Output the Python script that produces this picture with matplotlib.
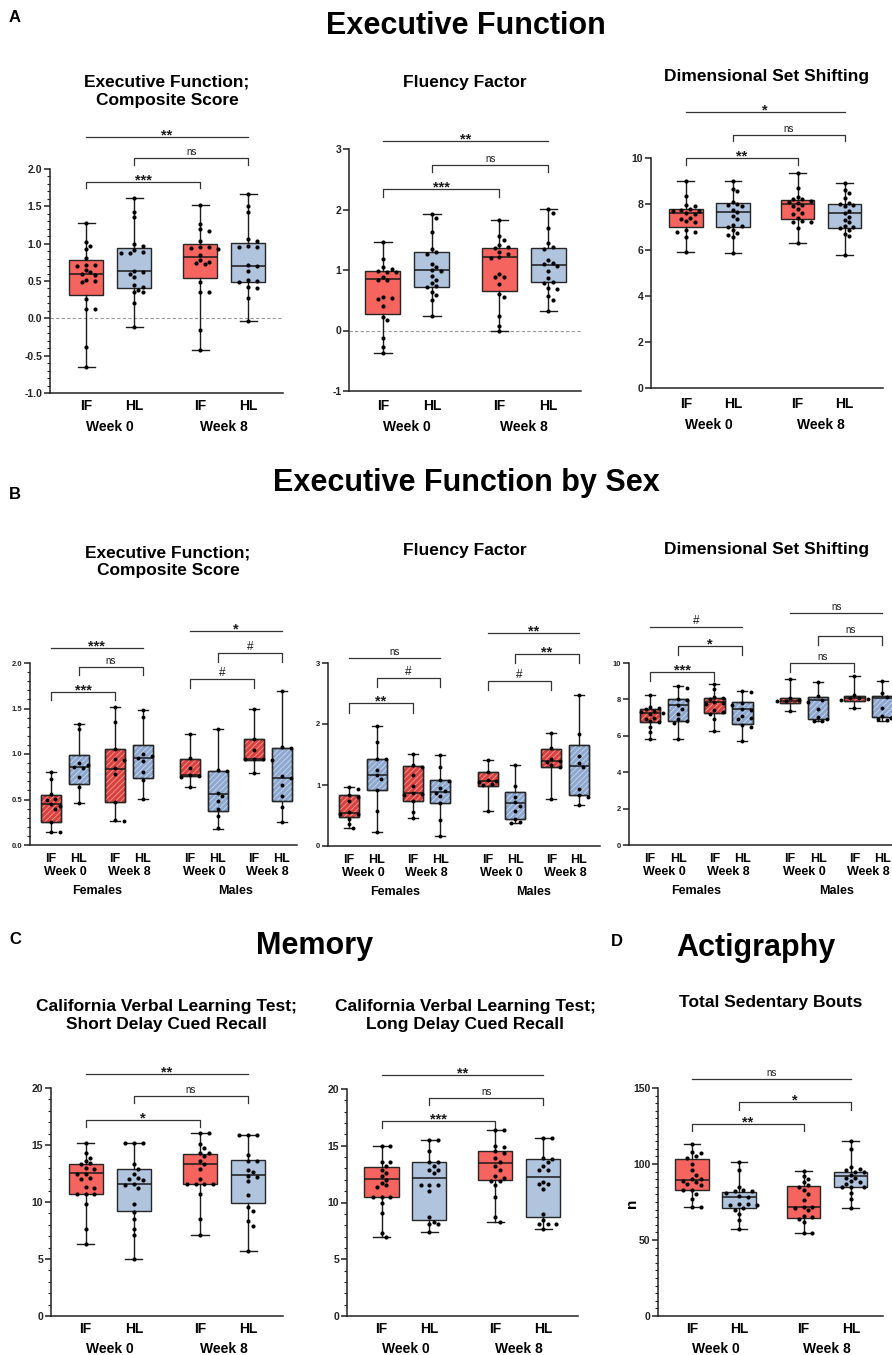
import numpy as np
import matplotlib
matplotlib.use("Agg")
import matplotlib.pyplot as plt
from matplotlib.ticker import AutoMinorLocator
from matplotlib.patches import PathPatch

plt.rcParams['font.family'] = ['Liberation Sans', 'DejaVu Sans']
plt.rcParams['hatch.linewidth'] = 0.6

# ---------------- data ----------------
groups = ["IF", "HL", "IF", "HL"]
weeks = ["Week 0", "Week 8"]
sexes = ["Females", "Males"]

# A1 Executive function composite
ef_lo = [-0.65, -0.11, -0.42, -0.04]
ef_q1 = [0.31, 0.40, 0.54, 0.48]
ef_med = [0.59, 0.63, 0.82, 0.70]
ef_q3 = [0.78, 0.94, 1.00, 1.01]
ef_hi = [1.28, 1.61, 1.52, 1.67]
ef_pts = [
    [1.28, 1.02, 0.97, 0.93, 0.81, 0.72, 0.71, 0.70, 0.65, 0.62, 0.60, 0.58, 0.52, 0.50, 0.49, 0.26, 0.12, 0.12, -0.38, -0.65],
    [1.61, 1.43, 1.36, 0.99, 0.97, 0.91, 0.89, 0.88, 0.87, 0.64, 0.62, 0.60, 0.56, 0.44, 0.42, 0.38, 0.35, 0.35, 0.20, -0.11],
    [1.52, 1.26, 1.19, 1.17, 1.04, 0.96, 0.95, 0.94, 0.93, 0.85, 0.78, 0.76, 0.74, 0.73, 0.49, 0.35, 0.35, -0.16, -0.42],
    [1.67, 1.50, 1.43, 1.06, 1.04, 0.97, 0.96, 0.95, 0.72, 0.70, 0.63, 0.51, 0.50, 0.49, 0.42, 0.41, 0.27, -0.04],
]

# A2 Fluency factor
flu_lo = [-0.38, 0.24, 0.00, 0.33]
flu_q1 = [0.28, 0.72, 0.65, 0.80]
flu_med = [0.85, 1.00, 1.21, 1.08]
flu_q3 = [0.99, 1.29, 1.36, 1.36]
flu_hi = [1.46, 1.93, 1.82, 2.01]
flu_pts = [
    [1.46, 1.19, 1.05, 1.02, 0.99, 0.97, 0.96, 0.88, 0.84, 0.83, 0.56, 0.53, 0.52, 0.41, 0.23, 0.18, -0.12, -0.28, -0.38],
    [1.93, 1.86, 1.62, 1.35, 1.30, 1.27, 1.10, 1.05, 1.00, 0.99, 0.90, 0.83, 0.78, 0.73, 0.72, 0.63, 0.59, 0.50, 0.24],
    [1.82, 1.57, 1.50, 1.41, 1.38, 1.36, 1.30, 1.27, 1.21, 1.20, 0.93, 0.89, 0.88, 0.77, 0.60, 0.55, 0.24, 0.08, 0.00],
    [2.01, 1.95, 1.70, 1.44, 1.38, 1.35, 1.17, 1.12, 1.10, 1.07, 0.98, 0.87, 0.80, 0.78, 0.70, 0.68, 0.57, 0.50, 0.33],
]

# A3 Dimensional set shifting
dss_lo = [5.90, 5.85, 6.30, 5.78]
dss_q1 = [6.98, 7.01, 7.36, 6.97]
dss_med = [7.59, 7.66, 7.98, 7.60]
dss_q3 = [7.80, 8.05, 8.16, 7.99]
dss_hi = [8.99, 9.00, 9.36, 8.93]
dss_pts = [
    [8.99, 8.35, 7.95, 7.90, 7.80, 7.76, 7.70, 7.68, 7.60, 7.55, 7.40, 7.35, 7.25, 7.20, 6.85, 6.80, 6.80, 6.55, 5.90],
    [9.00, 8.65, 8.55, 8.10, 8.00, 7.95, 7.90, 7.75, 7.65, 7.50, 7.35, 7.10, 7.05, 7.00, 6.85, 6.75, 6.65, 6.55, 5.85],
    [9.36, 8.70, 8.30, 8.20, 8.20, 8.15, 8.10, 8.05, 7.95, 7.90, 7.80, 7.60, 7.55, 7.40, 7.25, 7.20, 7.20, 6.95, 6.30],
    [8.93, 8.60, 8.50, 8.25, 8.05, 8.00, 7.95, 7.90, 7.70, 7.60, 7.45, 7.30, 7.20, 7.05, 7.00, 6.95, 6.85, 6.70, 6.60, 5.78],
]

# B1 composite by sex (F IF0, F HL0, F IF8, F HL8, M IF0, M HL0, M IF8, M HL8)
efs_lo = [0.14, 0.46, 0.26, 0.51, 0.64, 0.18, 0.79, 0.25]
efs_q1 = [0.25, 0.67, 0.47, 0.74, 0.76, 0.37, 0.93, 0.48]
efs_med = [0.45, 0.86, 0.84, 0.96, 0.77, 0.56, 0.95, 0.74]
efs_q3 = [0.55, 0.99, 1.05, 1.10, 0.95, 0.81, 1.17, 1.07]
efs_hi = [0.80, 1.33, 1.52, 1.48, 1.22, 1.28, 1.49, 1.69]
efs_pts = [
    [0.80, 0.72, 0.56, 0.51, 0.49, 0.45, 0.43, 0.40, 0.25, 0.14, 0.14],
    [1.33, 1.27, 0.90, 0.88, 0.86, 0.85, 0.75, 0.64, 0.46],
    [1.52, 1.35, 1.06, 0.95, 0.93, 0.85, 0.78, 0.47, 0.27, 0.26],
    [1.48, 1.41, 1.00, 0.98, 0.96, 0.92, 0.80, 0.71, 0.51],
    [1.22, 0.96, 0.85, 0.77, 0.76, 0.75, 0.64],
    [1.28, 0.82, 0.81, 0.57, 0.54, 0.48, 0.40, 0.32, 0.19],
    [1.49, 1.17, 1.04, 0.95, 0.94, 0.94, 0.93, 0.79],
    [1.69, 1.08, 1.07, 0.76, 0.74, 0.66, 0.54, 0.42, 0.25],
]

# B2 fluency by sex
flus_lo = [0.30, 0.23, 0.46, 0.17, 0.58, 0.37, 0.77, 0.68]
flus_q1 = [0.475, 0.92, 0.73, 0.70, 0.98, 0.45, 1.29, 0.83]
flus_med = [0.54, 1.17, 0.87, 0.89, 1.06, 0.70, 1.39, 1.31]
flus_q3 = [0.83, 1.42, 1.31, 1.09, 1.22, 0.88, 1.59, 1.66]
flus_hi = [0.97, 1.97, 1.51, 1.50, 1.41, 1.33, 1.85, 2.47]
flus_pts = [
    [0.96, 0.93, 0.84, 0.81, 0.74, 0.55, 0.53, 0.52, 0.45, 0.36, 0.30],
    [1.97, 1.71, 1.43, 1.42, 1.25, 1.16, 1.10, 0.92, 0.57, 0.23],
    [1.51, 1.33, 1.30, 1.17, 0.98, 0.87, 0.85, 0.84, 0.73, 0.56, 0.46],
    [1.50, 1.30, 1.08, 1.07, 0.95, 0.90, 0.87, 0.82, 0.70, 0.42, 0.17],
    [1.41, 1.22, 1.08, 1.06, 1.05, 1.02, 1.00, 0.58],
    [1.33, 0.98, 0.80, 0.72, 0.66, 0.57, 0.44, 0.40, 0.37],
    [1.85, 1.60, 1.42, 1.39, 1.38, 1.32, 1.30, 0.77],
    [2.47, 1.84, 1.48, 1.36, 1.30, 0.94, 0.83, 0.80, 0.68],
]

# B3 set shifting by sex
dsss_lo = [5.83, 5.85, 6.29, 5.69, 7.39, 6.79, 7.52, 6.84]
dsss_q1 = [6.75, 6.83, 7.25, 6.64, 7.80, 6.94, 7.93, 7.06]
dsss_med = [7.28, 7.69, 7.83, 7.47, 7.93, 7.98, 8.06, 8.07]
dsss_q3 = [7.49, 8.00, 8.07, 7.83, 8.07, 8.11, 8.20, 8.20]
dsss_hi = [8.22, 8.72, 8.84, 8.48, 9.14, 8.94, 9.30, 9.03]
dsss_pts = [
    [8.22, 7.60, 7.55, 7.45, 7.35, 7.30, 7.28, 7.20, 7.00, 6.95, 6.80, 6.75, 6.50, 6.20, 5.83],
    [8.72, 8.65, 8.00, 7.95, 7.70, 7.50, 7.20, 6.90, 6.80, 6.70, 5.85],
    [8.84, 8.55, 8.15, 8.10, 8.00, 7.85, 7.80, 7.75, 7.70, 7.40, 7.30, 7.20, 6.90, 6.29],
    [8.48, 8.40, 7.80, 7.50, 7.40, 7.10, 7.00, 6.95, 6.60, 6.50, 5.69],
    [9.14, 8.05, 7.95, 7.93, 7.90, 7.85, 7.39],
    [8.94, 8.20, 7.95, 7.50, 7.05, 6.95, 6.80, 6.80],
    [9.30, 8.25, 8.10, 8.05, 8.02, 7.95, 7.52],
    [9.03, 8.35, 8.15, 7.55, 7.10, 7.00, 6.90, 6.85],
]

# C1 CVLT short delay cued recall
cvs_lo = [6.30, 4.98, 7.12, 5.71]
cvs_q1 = [10.72, 9.17, 11.60, 9.90]
cvs_med = [12.53, 11.57, 13.35, 12.33]
cvs_q3 = [13.35, 12.88, 14.23, 13.65]
cvs_hi = [15.17, 15.17, 16.05, 15.90]
cvs_pts = [
    [15.17, 14.3, 13.9, 13.6, 13.4, 13.3, 13.0, 12.9, 12.5, 12.5, 12.1, 12.0, 11.3, 11.2, 10.7, 10.7, 10.7, 9.8, 7.6, 6.3],
    [15.17, 15.17, 15.17, 13.3, 12.9, 12.5, 12.1, 12.0, 11.9, 11.6, 11.5, 11.2, 9.8, 9.1, 8.5, 7.6, 7.1, 4.98],
    [16.05, 16.05, 15.1, 14.7, 14.3, 14.3, 14.0, 13.6, 13.3, 12.9, 12.0, 11.6, 11.6, 11.6, 11.6, 10.7, 8.5, 7.12],
    [15.9, 15.9, 15.9, 14.1, 13.6, 13.6, 12.8, 12.6, 12.3, 12.2, 11.8, 10.6, 9.6, 9.2, 8.3, 7.9, 5.71],
]

# C2 CVLT long delay cued recall
cvl_lo = [6.94, 7.44, 8.32, 7.65]
cvl_q1 = [10.47, 8.47, 11.94, 8.76]
cvl_med = [12.06, 12.15, 13.47, 12.29]
cvl_q3 = [13.09, 13.53, 14.50, 13.82]
cvl_hi = [14.94, 15.47, 16.35, 15.68]
cvl_pts = [
    [14.94, 14.94, 13.6, 13.6, 13.2, 12.9, 12.6, 12.3, 12.0, 11.7, 11.5, 11.4, 10.5, 10.5, 10.5, 10.0, 9.1, 7.3, 6.94],
    [15.47, 15.47, 14.5, 13.6, 13.6, 13.2, 12.9, 12.9, 12.6, 11.5, 11.5, 11.5, 11.0, 8.7, 8.3, 8.1, 8.1, 7.44],
    [16.35, 16.35, 15.0, 14.9, 14.5, 14.4, 13.9, 13.6, 13.2, 12.9, 12.3, 12.2, 11.9, 11.9, 11.5, 10.5, 8.7, 8.32],
    [15.68, 15.68, 13.9, 13.8, 13.6, 13.2, 12.9, 12.9, 11.8, 11.6, 11.6, 11.2, 9.0, 8.5, 8.1, 8.1, 8.1, 7.65],
]

# D Total sedentary bouts
sed_lo = [72.0, 57.1, 54.5, 70.9]
sed_q1 = [82.6, 70.9, 64.8, 84.6]
sed_med = [89.2, 78.2, 71.6, 91.8]
sed_q3 = [103.2, 81.3, 85.7, 94.7]
sed_hi = [113.1, 101.2, 95.5, 114.9]
sed_pts = [
    [113.1, 108, 107, 105, 104, 100, 96, 93, 90, 90, 89, 88, 87, 86, 83, 83, 80, 77, 72, 72],
    [101.2, 96, 85, 83, 82, 82, 81, 79, 78, 74, 74, 73, 73, 71, 70, 67, 63, 57.1],
    [95.5, 92, 90, 88, 86, 85, 83, 80, 76, 72, 72, 71, 70, 66, 65, 64, 62, 54.5, 54.5],
    [114.9, 110, 98, 97, 96, 95, 95, 93, 91, 91, 89, 88, 87, 85, 85, 85, 81, 77, 70.9],
]

# ---------------- styling ----------------
RED_A, BLUE_A = '#F5645E', '#B0C4DE'
RED_B, BLUE_B = '#D9413F', '#8EA8CF'
HATCH_R, HATCH_B = '#F29A95', '#CAD8EC'
EDGE = '#262626'

POS4 = [1, 2, 3.375, 4.375]
POS8 = [1, 2, 3.3, 4.3, 6, 7, 8.3, 9.3]

W, H = 892, 1355
fig = plt.figure(figsize=(W / 100, H / 100), dpi=100)
HEAD = ['Liberation Sans', 'DejaVu Sans']


def px_axes(x0, y0, x1, y1):
    return fig.add_axes([x0 / W, 1 - y1 / H, (x1 - x0) / W, (y1 - y0) / H])


def style(ax, xlim, ylim, yticks, fmt, minor, fs):
    ax.set_xlim(*xlim)
    ax.set_ylim(*ylim)
    for s in ['top', 'right']:
        ax.spines[s].set_visible(False)
    for s in ['left', 'bottom']:
        ax.spines[s].set_linewidth(1.1)
        ax.spines[s].set_color('#222222')
    ax.set_yticks(yticks)
    ax.set_yticklabels([fmt.format(t) for t in yticks], fontweight='bold', fontsize=fs)
    if minor:
        ax.yaxis.set_minor_locator(AutoMinorLocator(minor))
    ax.tick_params(axis='y', which='major', length=4, width=1.1, pad=1.5, colors='#222222')
    ax.tick_params(axis='y', which='minor', length=2, width=0.8, colors='#222222')
    ax.set_xticks([])


def swarm_x(ax, x0, vals, dot_px=4.8, step_px=4.4):
    tr = ax.transData
    xd0 = tr.transform((x0, 0))[0]
    ys = [tr.transform((x0, v))[1] for v in vals]
    placed = []
    out = []
    cands = [0]
    for n in range(1, 12):
        cands += [n, -n]
    for y in ys:
        for c in cands:
            xp = xd0 + c * step_px
            if all((xp - px) ** 2 + (y - py) ** 2 >= dot_px ** 2 for px, py in placed):
                break
        placed.append((xp, y))
        out.append(tr.inverted().transform((xp, y))[0])
    return out


def draw(ax, pos, lo, q1, med, q3, hi, pts, colors, width, hatch=None, dot=9):
    stats = [dict(whislo=a, q1=b, med=c, q3=d, whishi=e, fliers=[])
             for a, b, c, d, e in zip(lo, q1, med, q3, hi)]
    bp = ax.bxp(stats, positions=pos, widths=width, patch_artist=True,
                showfliers=False, capwidths=width * 0.5, manage_ticks=False,
                boxprops=dict(edgecolor=EDGE, linewidth=1.0),
                medianprops=dict(color='#1a1a1a', linewidth=1.1),
                whiskerprops=dict(color='#1a1a1a', linewidth=1.0),
                capprops=dict(color='#1a1a1a', linewidth=1.0), zorder=2)
    for patch, c in zip(bp['boxes'], colors):
        patch.set_facecolor(c)
        if hatch:
            hc = HATCH_R if c == RED_B else HATCH_B
            ax.add_patch(PathPatch(patch.get_path(), facecolor='none', edgecolor=hc,
                                   hatch=hatch, lw=0, zorder=2.05))
            ax.add_patch(PathPatch(patch.get_path(), facecolor='none', edgecolor=EDGE,
                                   lw=1.0, zorder=2.1))
    for m in bp['medians']:
        m.set_zorder(2.2)
    for p, v in zip(pos, pts):
        xs = swarm_x(ax, p, v)
        ax.scatter(xs, v, s=dot, color='black', linewidths=0, zorder=3)


def sig(ax, pos, i, j, y, label, tick=None):
    x1, x2 = pos[i], pos[j]
    if tick:
        xs, ys = [x1, x1, x2, x2], [y - tick, y, y, y - tick]
    else:
        xs, ys = [x1, x2], [y, y]
    ax.plot(xs, ys, color='#333333', lw=0.9, clip_on=False)
    if label == 'ns':
        fs, fw, off = 7, 'normal', 2.3
    elif label == '#':
        fs, fw, off = 8.5, 'normal', 2.3
    else:
        fs, fw, off = 10.5, 'bold', -1.8
    ax.annotate(label, xy=((x1 + x2) / 2, y), xytext=(0, off), textcoords='offset points',
                ha='center', va='baseline', fontsize=fs, fontweight=fw,
                annotation_clip=False, color='#1a1a1a')


def xlabels(ax, pos, labs, off1, fs1, week_pos, week_labs, off2, fs2):
    for p, l in zip(pos, labs):
        ax.annotate(l, xy=(p, 0), xycoords=('data', 'axes fraction'), xytext=(0, -off1),
                    textcoords='offset points', ha='center', va='baseline',
                    fontsize=fs1, fontweight='bold', annotation_clip=False)
    for p, l in zip(week_pos, week_labs):
        ax.annotate(l, xy=(p, 0), xycoords=('data', 'axes fraction'), xytext=(0, -off2),
                    textcoords='offset points', ha='center', va='baseline',
                    fontsize=fs2, fontweight='bold', annotation_clip=False)


def title_px(x, y, s, fs, family=None, ls=1.25):
    fig.text(x / W, 1 - y / H, s, ha='center', va='center', fontsize=fs,
             fontweight='bold', family=family or ['Liberation Sans', 'DejaVu Sans'],
             linespacing=ls)


colsA = [RED_A, BLUE_A, RED_A, BLUE_A]
colsB = [RED_B, BLUE_B, RED_B, BLUE_B] * 2
weekA = [(POS4[0] + POS4[1]) / 2, (POS4[2] + POS4[3]) / 2]
weekB = [(POS8[k] + POS8[k + 1]) / 2 for k in (0, 2, 4, 6)]
sexB = [(POS8[0] + POS8[3]) / 2, (POS8[4] + POS8[7]) / 2]

# ---------------- headings ----------------
for lx, ly, lt in [(15, 18, "A"), (15, 495, "B"), (15, 940, "C"), (617, 942, "D")]:
    fig.text(lx / W, 1 - ly / H, lt, fontsize=12, fontweight='bold', family=HEAD,
             ha='center', va='center')
title_px(466, 26, "Executive Function", 22, HEAD)
title_px(466, 483, "Executive Function by Sex", 22, HEAD)
title_px(315, 946, "Memory", 22, HEAD)
title_px(756, 948, "Actigraphy", 22, HEAD)

# ---------------- Panel A ----------------
ax = px_axes(50, 169, 283, 393)
style(ax, (0.25, 5.1), (-1, 2), [-1.0, -0.5, 0.0, 0.5, 1.0, 1.5, 2.0], "{:.1f}", 5, 7.5)
ax.axhline(0, color='#9a9a9a', lw=0.8, ls=(0, (3, 2)), zorder=1)
draw(ax, POS4, ef_lo, ef_q1, ef_med, ef_q3, ef_hi, ef_pts, colsA, 0.71)
sig(ax, POS4, 0, 3, 2.43, "**")
sig(ax, POS4, 1, 3, 2.15, "ns", 0.1)
sig(ax, POS4, 0, 2, 1.83, "***", 0.09)
xlabels(ax, POS4, groups, 12.5, 10, weekA, weeks, 27.5, 10)
title_px(167, 91, "Executive Function;\nComposite Score", 12.5)

ax = px_axes(349, 149, 581, 391)
style(ax, (0.31, 5.04), (-1, 3), [-1, 0, 1, 2, 3], "{:d}", None, 7.5)
ax.axhline(0, color='#9a9a9a', lw=0.8, ls=(0, (3, 2)), zorder=1)
draw(ax, POS4, flu_lo, flu_q1, flu_med, flu_q3, flu_hi, flu_pts, colsA, 0.71)
sig(ax, POS4, 0, 3, 3.13, "**")
sig(ax, POS4, 1, 3, 2.74, "ns", 0.12)
sig(ax, POS4, 0, 2, 2.34, "***", 0.13)
xlabels(ax, POS4, groups, 13.5, 10, weekA, weeks, 28.5, 10)
title_px(465, 82, "Fluency Factor", 12.5)

ax = px_axes(651, 158, 883, 388)
style(ax, (0.26, 5.19), (0, 10), [0, 2, 4, 6, 8, 10], "{:d}", None, 7.5)
draw(ax, POS4, dss_lo, dss_q1, dss_med, dss_q3, dss_hi, dss_pts, colsA, 0.71)
sig(ax, POS4, 0, 3, 12.0, "*")
sig(ax, POS4, 1, 3, 11.0, "ns", 0.26)
sig(ax, POS4, 0, 2, 10.0, "**", 0.3)
xlabels(ax, POS4, groups, 14.5, 10, weekA, weeks, 29.5, 10)
title_px(767, 77, "Dimensional Set Shifting", 12.5)

# ---------------- Panel B ----------------
ax = px_axes(30, 663, 297, 845)
style(ax, (0.245, 9.85), (0, 2), [0.0, 0.5, 1.0, 1.5, 2.0], "{:.1f}", 5, 5.5)
draw(ax, POS8, efs_lo, efs_q1, efs_med, efs_q3, efs_hi, efs_pts, colsB, 0.72, hatch='//////', dot=8)
sig(ax, POS8, 0, 3, 2.165, "***")
sig(ax, POS8, 1, 3, 1.956, "ns", 0.09)
sig(ax, POS8, 0, 2, 1.68, "***", 0.09)
sig(ax, POS8, 4, 7, 2.35, "*")
sig(ax, POS8, 5, 7, 2.11, "#", 0.1)
sig(ax, POS8, 4, 6, 1.82, "#", 0.1)
xlabels(ax, POS8, groups * 2, 12.0, 9, weekB, weeks * 2, 21.5, 9)
xlabels(ax, [], [], 0, 9, sexB, sexes, 35, 9)
title_px(168, 562, "Executive Function;\nComposite Score", 12.5)

ax = px_axes(328, 663, 600, 846)
style(ax, (0.24, 10.06), (0, 3), [0, 1, 2, 3], "{:d}", None, 5.5)
draw(ax, POS8, flus_lo, flus_q1, flus_med, flus_q3, flus_hi, flus_pts, colsB, 0.72, hatch='//////', dot=8)
sig(ax, POS8, 0, 3, 3.08, "ns")
sig(ax, POS8, 1, 3, 2.75, "#", 0.14)
sig(ax, POS8, 0, 2, 2.34, "**", 0.16)
sig(ax, POS8, 4, 7, 3.49, "**")
sig(ax, POS8, 5, 7, 3.15, "**", 0.15)
sig(ax, POS8, 4, 6, 2.70, "#", 0.14)
xlabels(ax, POS8, groups * 2, 12.0, 9, weekB, weeks * 2, 21.5, 9)
xlabels(ax, [], [], 0, 9, sexB, sexes, 35, 9)
title_px(465, 550, "Fluency Factor", 12.5)

ax = px_axes(629, 663, 892, 845)
style(ax, (0.25, 9.64), (0, 10), [0, 2, 4, 6, 8, 10], "{:d}", None, 5.5)
draw(ax, POS8, dsss_lo, dsss_q1, dsss_med, dsss_q3, dsss_hi, dsss_pts, colsB, 0.72, hatch='//////', dot=8)
sig(ax, POS8, 0, 3, 11.98, "#")
sig(ax, POS8, 1, 3, 10.93, "*", 0.5)
sig(ax, POS8, 0, 2, 9.5, "***", 0.5)
sig(ax, POS8, 4, 7, 12.75, "ns")
sig(ax, POS8, 5, 7, 11.5, "ns", 0.5)
sig(ax, POS8, 4, 6, 10.0, "ns", 0.5)
xlabels(ax, POS8, groups * 2, 12.0, 9, weekB, weeks * 2, 21.5, 9)
xlabels(ax, [], [], 0, 9, sexB, sexes, 35, 9)
title_px(767, 549, "Dimensional Set Shifting", 12.5)

# ---------------- Panel C ----------------
ax = px_axes(51, 1088, 283, 1316)
style(ax, (0.28, 5.1), (0, 20), [0, 5, 10, 15, 20], "{:d}", 5, 7.5)
draw(ax, POS4, cvs_lo, cvs_q1, cvs_med, cvs_q3, cvs_hi, cvs_pts, colsA, 0.71)
sig(ax, POS4, 0, 3, 21.2, "**")
sig(ax, POS4, 1, 3, 19.3, "ns", 0.6)
sig(ax, POS4, 0, 2, 17.2, "*", 0.6)
xlabels(ax, POS4, groups, 12.5, 10, weekA, weeks, 26.5, 10)
title_px(166, 1015, "California Verbal Learning Test;\nShort Delay Cued Recall", 12.5)

ax = px_axes(347, 1089, 578, 1316)
style(ax, (0.28, 5.1), (0, 20), [0, 5, 10, 15, 20], "{:d}", 5, 7.5)
draw(ax, POS4, cvl_lo, cvl_q1, cvl_med, cvl_q3, cvl_hi, cvl_pts, colsA, 0.71)
sig(ax, POS4, 0, 3, 21.2, "**")
sig(ax, POS4, 1, 3, 19.2, "ns", 0.6)
sig(ax, POS4, 0, 2, 17.2, "***", 0.6)
xlabels(ax, POS4, groups, 12.5, 10, weekA, weeks, 26.5, 10)
title_px(465, 1015, "California Verbal Learning Test;\nLong Delay Cued Recall", 12.5)

# ---------------- Panel D ----------------
ax = px_axes(658, 1088, 883, 1316)
style(ax, (0.28, 5.06), (0, 150), [0, 50, 100, 150], "{:d}", 10, 7.5)
draw(ax, POS4, sed_lo, sed_q1, sed_med, sed_q3, sed_hi, sed_pts, colsA, 0.71)
sig(ax, POS4, 0, 3, 155.9, "ns")
sig(ax, POS4, 1, 3, 140.8, "*", 5)
sig(ax, POS4, 0, 2, 126.3, "**", 4.6)
xlabels(ax, POS4, groups, 12.5, 10, weekA, weeks, 26.5, 10)
fig.text(632 / W, 1 - 1203 / H, "n", fontsize=11, fontweight='bold', rotation=90,
         ha='center', va='center')
title_px(771, 1003, "Total Sedentary Bouts", 12.5)

fig.savefig("out.png", dpi=100)
